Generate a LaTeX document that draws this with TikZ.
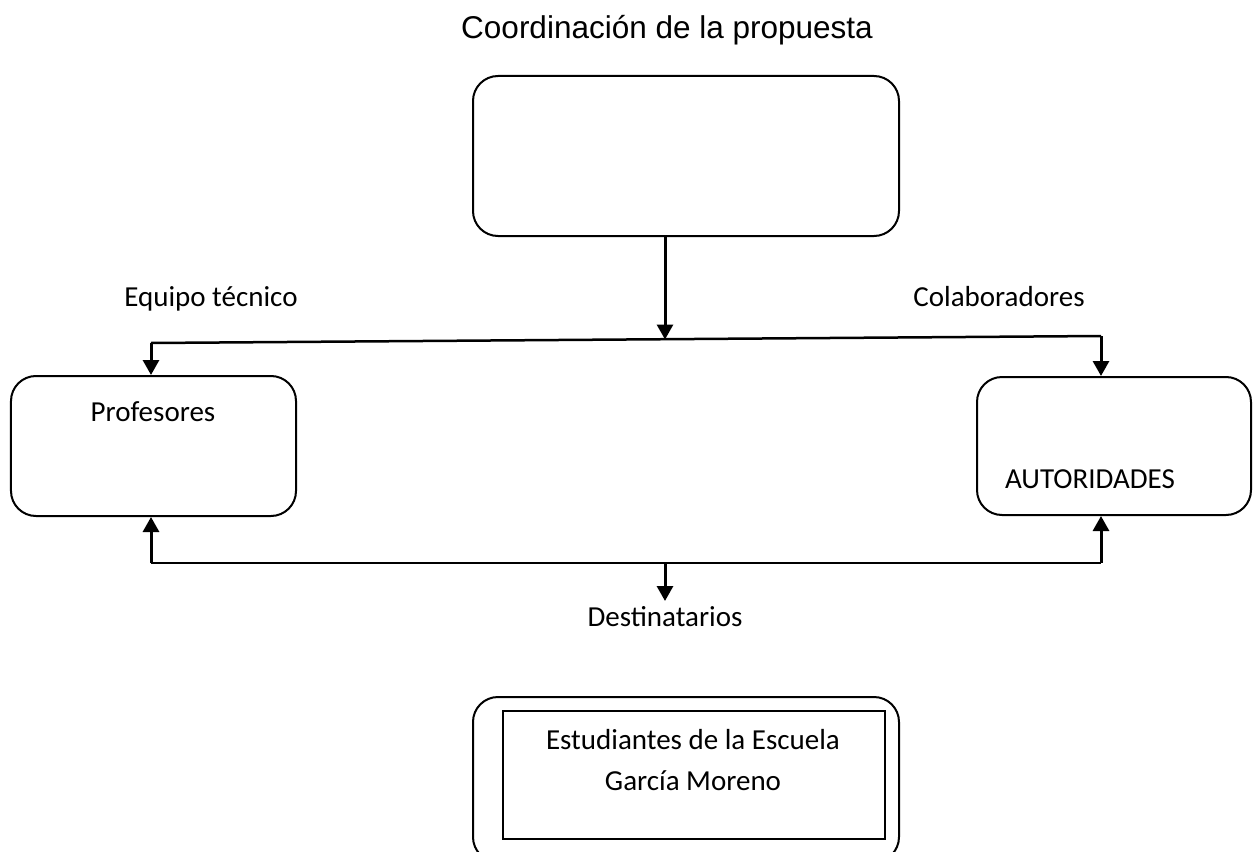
\documentclass[tikz,border=0pt]{standalone}
\usepackage{fontspec}
\setmainfont{Carlito}
\newfontfamily\arialfont{Liberation Sans}
\usetikzlibrary{arrows.meta}
\begin{document}
\begin{tikzpicture}[x=1bp,y=-1bp,
  box/.style={draw, line width=2bp, rounded corners=25bp, inner sep=0pt},
  plainbox/.style={draw, line width=2bp, inner sep=0pt},
  conn/.style={line width=2.5bp},
  arr/.style={line width=3bp, -{Triangle[width=16bp,length=15bp]}},
  lbl/.style={font=\fontsize{29bp}{41bp}\selectfont, inner sep=0pt, anchor=base},
  ttl/.style={font=\arialfont\fontsize{31.5bp}{36bp}\selectfont, inner sep=0pt, anchor=base}
]
\clip (0,0) rectangle (1253,852);
\useasboundingbox (0,0) rectangle (1253,852);

% title
\node[ttl] (title) at (667,38) {Coordinación de la propuesta};

% boxes
\node[box, minimum width=426bp, minimum height=160bp] (coord) at (686,156) {};
\node[box, minimum width=285bp, minimum height=140bp] (prof) at (153.5,446) {};
\node[box, minimum width=274bp, minimum height=138bp] (aut) at (1114,446) {};
\node[box, minimum width=426bp, minimum height=165bp] (dest) at (686,779.5) {};
\node[plainbox, minimum width=382bp, minimum height=128bp] (est) at (694,775) {};

% texts
\node[lbl] (profT) at (153,421) {Profesores};
\node[lbl] (autT) at (1090,488) {AUTORIDADES};
\node[lbl] (equipo) at (211,306) {Equipo técnico};
\node[lbl] (colab) at (999,306) {Colaboradores};
\node[lbl] (destT) at (665,626) {Destinatarios};
\node[font=\fontsize{29bp}{41bp}\selectfont, inner sep=0pt, align=center] (estT) at (693,760)
  {Estudiantes de la Escuela\\García Moreno};

% upper connectors
\coordinate (tl) at (151,343);
\coordinate (tr) at (1101,336);
\coordinate (tm) at (665,339.5);
\draw[conn] (tl) -- (tr);
\draw[arr] (coord.south -| tm) -- (tm);
\draw[arr] (tl) -- (tl |- prof.north);
\draw[arr] (tr) -- (tr |- aut.north);

% lower connectors
\coordinate (bl) at (151,563);
\coordinate (br) at (1101,563);
\coordinate (bm) at (665,563);
\coordinate (bt) at (665,601);
\draw[conn] (bl) -- (br);
\draw[arr] (bl) -- (bl |- prof.south);
\draw[arr] (br) -- (br |- aut.south);
\draw[arr] (bm) -- (bt);
\end{tikzpicture}
\end{document}
